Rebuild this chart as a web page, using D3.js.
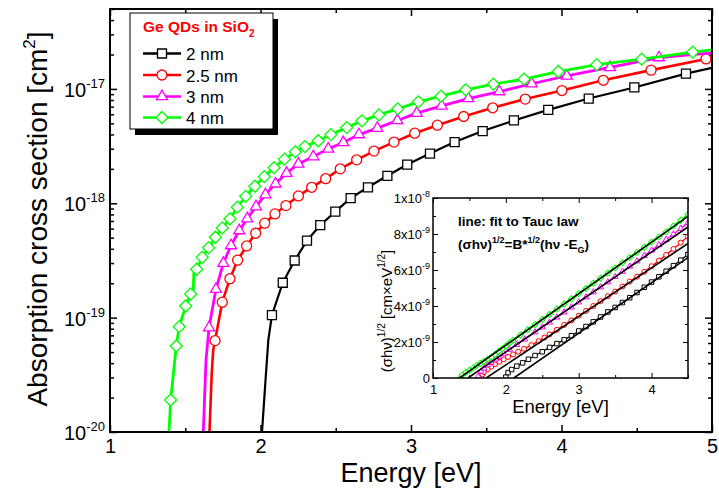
<!DOCTYPE html>
<html><head><meta charset="utf-8">
<script src="https://cdn.jsdelivr.net/npm/d3@7"></script>
<style>
body{margin:0;background:#fff}
svg{display:block}
text{font-family:"Liberation Sans",Arial,Helvetica,sans-serif;fill:#000}
</style>
</head><body>
<svg id="chart" width="719" height="492"></svg>
<script>
// ---------------- DATA ----------------
const seriesNames = ["2 nm", "2.5 nm", "3 nm", "4 nm"];

// main chart: marker points (energy eV, cross section cm^2)
const mkE_2nm  = [2.076,2.148,2.227,2.309,2.397,2.497,2.599,2.714,2.843,2.975,3.126,3.290,3.476,3.684,3.912,4.181,4.484,4.827];
const mkS_2nm  = [1.05e-19,2.02e-19,3.16e-19,4.72e-19,6.43e-19,8.45e-19,1.11e-18,1.38e-18,1.74e-18,2.18e-18,2.72e-18,3.43e-18,4.28e-18,5.30e-18,6.56e-18,8.24e-18,1.03e-17,1.36e-17];
const lnE_2nm  = [2.010,2.035,2.052,5.0];
const lnS_2nm  = [1.0e-20,3.05e-20,6.38e-20,1.53e-17];

const mkE_25nm = [1.698,1.746,1.797,1.848,1.908,1.968,2.028,2.096,2.169,2.252,2.340,2.433,2.530,2.639,2.754,2.887,3.025,3.175,3.350,3.543,3.759,4.003,4.278,4.595,4.960];
const mkS_25nm = [6.30e-20,1.365e-19,2.19e-19,3.18e-19,4.24e-19,5.47e-19,6.70e-19,8.07e-19,9.55e-19,1.16e-18,1.38e-18,1.64e-18,2.00e-18,2.40e-18,2.86e-18,3.43e-18,4.10e-18,4.82e-18,5.74e-18,6.84e-18,8.15e-18,9.68e-18,1.19e-17,1.46e-17,1.83e-17];
const lnE_25nm = [1.661,1.676,1.686,5.0];
const lnS_25nm = [1.0e-20,3.27e-20,5.21e-20,1.91e-17];

const mkE_3nm  = [1.658,1.704,1.753,1.804,1.859,1.912,1.970,2.033,2.100,2.173,2.252,2.351,2.450,2.550,2.654,2.776,2.909,3.038,3.204,3.381,3.587,3.802,4.035,4.322,4.648];
const mkS_3nm  = [8.18e-20,1.77e-19,2.99e-19,4.27e-19,5.77e-19,7.34e-19,9.35e-19,1.19e-18,1.48e-18,1.83e-18,2.21e-18,2.56e-18,2.99e-18,3.40e-18,3.99e-18,4.54e-18,5.30e-18,6.14e-18,7.11e-18,8.24e-18,9.48e-18,1.11e-17,1.30e-17,1.54e-17,1.88e-17];
const lnE_3nm  = [1.620,1.638,5.0];
const lnS_3nm  = [1.0e-20,4.27e-20,2.07e-17];

const mkE_4nm  = [1.403,1.4405,1.460,1.503,1.536,1.576,1.613,1.656,1.700,1.746,1.797,1.846,1.902,1.962,2.025,2.090,2.159,2.231,2.296,2.384,2.468,2.573,2.674,2.787,2.912,3.049,3.199,3.364,3.547,3.751,3.979,4.234,4.533,4.872];
const mkS_4nm  = [1.905e-20,5.65e-20,8.34e-20,1.265e-19,1.61e-19,2.65e-19,3.37e-19,4.09e-19,5.05e-19,6.09e-19,7.31e-19,9.25e-19,1.15e-18,1.41e-18,1.71e-18,2.05e-18,2.43e-18,2.82e-18,3.13e-18,3.52e-18,3.99e-18,4.59e-18,5.26e-18,5.93e-18,6.70e-18,7.71e-18,8.65e-18,9.82e-18,1.10e-17,1.22e-17,1.42e-17,1.63e-17,1.82e-17,2.10e-17];
const lnE_4nm  = [1.392,1.553,1.558,5.0];
const lnS_4nm  = [1.0e-20,1.75e-19,2.57e-19,2.20e-17];

// inset: (sigma*h*nu)^(1/2) in units of 1e-9 cm*eV^(1/2)
const inE_2nm  = [2.00,2.03,2.08,2.15,2.23,2.31,2.40,2.50,2.60,2.70,2.80,2.90,3.00,3.10,3.20,3.30,3.40,3.50,3.60,3.70,3.80,3.90,4.00,4.10,4.20,4.30,4.40,4.50];
const inV_2nm  = [0.05,0.30,0.47,0.66,0.84,1.04,1.25,1.46,1.70,1.91,2.12,2.35,2.61,2.86,3.12,3.39,3.67,3.92,4.19,4.46,4.75,5.04,5.33,5.62,5.93,6.24,6.55,6.86];
const inE_25nm = [1.66,1.68,1.70,1.75,1.80,1.85,1.91,1.97,2.03,2.10,2.17,2.25,2.35,2.45,2.53,2.60,2.70,2.80,2.90,3.00,3.10,3.20,3.30,3.40,3.50,3.60,3.70,3.80,3.90,4.00,4.10,4.20,4.30,4.40,4.50];
const inV_25nm = [0.02,0.20,0.33,0.49,0.63,0.76,0.90,1.04,1.17,1.31,1.46,1.62,1.83,2.05,2.25,2.42,2.68,2.95,3.20,3.46,3.73,4.00,4.27,4.54,4.80,5.08,5.36,5.63,5.90,6.21,6.52,6.84,7.17,7.52,7.86];
const inE_3nm  = [1.62,1.66,1.70,1.75,1.80,1.86,1.91,1.97,2.05,2.15,2.26,2.40,2.50,2.60,2.70,2.80,2.90,3.00,3.10,3.20,3.30,3.40,3.50,3.60,3.70,3.80,3.90,4.00,4.10,4.20,4.30,4.40,4.50];
const inV_3nm  = [0.08,0.37,0.54,0.72,0.87,1.04,1.18,1.36,1.58,1.85,2.15,2.55,2.82,3.09,3.37,3.65,3.93,4.21,4.49,4.77,5.05,5.33,5.62,5.91,6.20,6.49,6.79,7.09,7.39,7.69,7.99,8.30,8.62];
const inE_4nm  = [1.38,1.40,1.45,1.50,1.55,1.60,1.65,1.70,1.75,1.80,1.85,1.90,1.95,2.00,2.05,2.10,2.20,2.30,2.40,2.50,2.60,2.70,2.80,2.90,3.00,3.10,3.20,3.30,3.40,3.50,3.60,3.70,3.80,3.90,4.00,4.10,4.20,4.30,4.40,4.50];
const inV_4nm  = [0.02,0.16,0.32,0.43,0.55,0.70,0.81,0.93,1.04,1.16,1.31,1.47,1.63,1.78,1.94,2.10,2.39,2.68,2.97,3.25,3.54,3.83,4.11,4.40,4.69,4.97,5.26,5.54,5.83,6.12,6.40,6.69,6.98,7.26,7.55,7.84,8.12,8.45,8.76,9.08];

// Tauc fits: gap energy (value 0) and value at 4.5 eV
const fitEg   = [2.11, 1.73, 1.48, 1.364];
const fitV45  = [6.69, 7.47, 8.39, 8.98];

// ticks
const mainXMajor = [1, 2, 3, 4, 5];
const mainXMinor = [1.5, 2.5, 3.5, 4.5];
const mainYMajor = [1e-20, 1e-19, 1e-18, 1e-17];
const mainYLabelExp = ["-20", "-19", "-18", "-17"];
const insetXMajor = [1, 2, 3, 4];
const insetXMinor = [1.5, 2.5, 3.5, 4.5];
const insetYMajor = [0, 2, 4, 6, 8, 10];
const insetYMinor = [1, 3, 5, 7, 9];
const insetYLabelMant = ["0", "2x10", "4x10", "6x10", "8x10", "1x10"];
const insetYLabelExp  = ["", "-9", "-9", "-9", "-9", "-8"];

// ---------------- STYLE ----------------
const colors = ["#000000", "#ff0000", "#ff00ff", "#00ff00"];
const shapes = ["square", "circle", "triangle", "diamond"];

const svg = d3.select("#chart");
const x = d3.scaleLinear().domain([1, 5]).range([110, 712]);
const y = d3.scaleLog().domain([1e-20, 5e-17]).range([432, 9]);

function symPath(shape, s) {
  if (shape === "square") return d3.symbol(d3.symbolSquare, s * s)();
  if (shape === "circle") return d3.symbol(d3.symbolCircle, Math.PI * s * s / 4)();
  if (shape === "triangle") { const yy = s / (2 * Math.sqrt(3)); return d3.symbol(d3.symbolTriangle, 3 * Math.sqrt(3) * yy * yy)(); }
  return d3.symbol(d3.symbolSquare, (s / Math.SQRT2) * (s / Math.SQRT2))();
}
function symTransform(shape, px, py) {
  return `translate(${px},${py})` + (shape === "diamond" ? " rotate(45)" : "");
}

svg.append("defs").append("clipPath").attr("id", "clipMain")
  .append("rect").attr("x", 110).attr("y", 9).attr("width", 602).attr("height", 423);

// ---- main axes ----
const gx = svg.append("g").attr("transform", "translate(0,432)")
  .call(d3.axisBottom(x).tickValues(mainXMajor.concat(mainXMinor)).tickSize(-7).tickPadding(7)
    .tickFormat(d => mainXMajor.includes(d) ? d : ""));
gx.select(".domain").remove();
gx.selectAll(".tick line").attr("y2", d => mainXMajor.includes(d) ? -7 : -4).attr("stroke-width", 1.5);
gx.selectAll(".tick text").style("font-size", "20px").style("font-family", "Liberation Sans, Arial");

const gxt = svg.append("g").attr("transform", "translate(0,9)")
  .call(d3.axisTop(x).tickValues(mainXMajor.concat(mainXMinor)).tickSize(-7).tickFormat(""));
gxt.select(".domain").remove();
gxt.selectAll(".tick line").attr("y2", d => mainXMajor.includes(d) ? 7 : 4).attr("stroke-width", 1.5);

const yAll = y.ticks();
const isMajorY = d => mainYMajor.some(m => Math.abs(m - d) / m < 1e-6);
const gy = svg.append("g").attr("transform", "translate(110,0)")
  .call(d3.axisLeft(y).tickValues(yAll).tickSize(-7).tickFormat(""));
gy.select(".domain").remove();
gy.selectAll(".tick line").attr("x2", d => isMajorY(d) ? 7 : 4).attr("stroke-width", 1.5);
mainYMajor.forEach((v, i) => {
  const t = svg.append("text").attr("x", 105).attr("y", y(v) + 8)
    .attr("text-anchor", "end").style("font-size", "20px");
  t.append("tspan").text("10");
  t.append("tspan").attr("dy", -9).style("font-size", "13px").text(mainYLabelExp[i]);
});
const gyr = svg.append("g").attr("transform", "translate(712,0)")
  .call(d3.axisRight(y).tickValues(yAll).tickSize(-7).tickFormat(""));
gyr.select(".domain").remove();
gyr.selectAll(".tick line").attr("x2", d => isMajorY(d) ? -7 : -4).attr("stroke-width", 1.5);

// ---- main series ----
const mainSeries = [
  {mkE: mkE_2nm, mkS: mkS_2nm, lnE: lnE_2nm, lnS: lnS_2nm},
  {mkE: mkE_25nm, mkS: mkS_25nm, lnE: lnE_25nm, lnS: lnS_25nm},
  {mkE: mkE_3nm, mkS: mkS_3nm, lnE: lnE_3nm, lnS: lnS_3nm},
  {mkE: mkE_4nm, mkS: mkS_4nm, lnE: lnE_4nm, lnS: lnS_4nm}
];
const lineMain = d3.line().x(d => x(d[0])).y(d => y(d[1]));
const gMain = svg.append("g").attr("clip-path", "url(#clipMain)");
const mainWidths = [2.2, 2.6, 2.8, 2.8];
const mainSym = [9, 10, 11, 12];
mainSeries.forEach((s, i) => {
  const markers = s.mkE.map((e, j) => [e, s.mkS[j]]);
  const pts = markers.concat(s.lnE.map((e, j) => [e, s.lnS[j]])).sort((a, b) => a[0] - b[0]);
  gMain.append("path").attr("d", lineMain(pts)).attr("fill", "none")
    .attr("stroke", colors[i]).attr("stroke-width", mainWidths[i]).attr("stroke-linejoin", "round");
  gMain.selectAll(null).data(markers).enter().append("path")
    .attr("d", symPath(shapes[i], mainSym[i]))
    .attr("transform", d => symTransform(shapes[i], x(d[0]), y(d[1])))
    .attr("fill", "#fff").attr("stroke", colors[i]).attr("stroke-width", 1.3);
});

svg.append("rect").attr("x", 110).attr("y", 9).attr("width", 602).attr("height", 423)
  .attr("fill", "none").attr("stroke", "#000").attr("stroke-width", 2);

// axis titles
svg.append("text").attr("x", 411).attr("y", 482).attr("text-anchor", "middle")
  .style("font-size", "27px").text("Energy [eV]");
const yt = svg.append("text").attr("transform", "translate(47,219) rotate(-90)")
  .attr("text-anchor", "middle").style("font-size", "28px");
yt.append("tspan").text("Absorption cross section [cm");
yt.append("tspan").attr("dy", -12).style("font-size", "17px").text("2");
yt.append("tspan").attr("dy", 12).text("]");

// ---- legend ----
const lg = svg.append("g");
lg.append("rect").attr("x", 135).attr("y", 19).attr("width", 143).attr("height", 116).attr("fill", "#000");
lg.append("rect").attr("x", 130).attr("y", 13).attr("width", 143).attr("height", 116)
  .attr("fill", "#fff").attr("stroke", "#000").attr("stroke-width", 1);
const lt = lg.append("text").attr("x", 143).attr("y", 32).style("font-size", "15.5px")
  .style("font-weight", "bold").style("fill", "#ff0000");
lt.append("tspan").text("Ge QDs in SiO");
lt.append("tspan").attr("dy", 5).style("font-size", "10px").text("2");
const legendRowY = [53.5, 75, 96.5, 117.5];
seriesNames.forEach((n, i) => {
  const ry = legendRowY[i];
  lg.append("line").attr("x1", 143).attr("x2", 181).attr("y1", ry).attr("y2", ry)
    .attr("stroke", colors[i]).attr("stroke-width", 2.6);
  lg.append("path").attr("d", symPath(shapes[i], mainSym[i]))
    .attr("transform", symTransform(shapes[i], 162, ry))
    .attr("fill", "#fff").attr("stroke", colors[i]).attr("stroke-width", 1.3);
  lg.append("text").attr("x", 186).attr("y", ry + 6.5).style("font-size", "17px").text(n);
});

// ---- inset ----
const xi = d3.scaleLinear().domain([1, 4.5]).range([433, 688]);
const yi = d3.scaleLinear().domain([0, 10]).range([378, 198]);
const gi = svg.append("g");
gi.append("rect").attr("x", 433).attr("y", 198).attr("width", 255).attr("height", 180).attr("fill", "#fff");
gi.append("defs").append("clipPath").attr("id", "clipInset")
  .append("rect").attr("x", 433).attr("y", 198).attr("width", 255).attr("height", 180);

const gib = gi.append("g").attr("transform", "translate(0,378)")
  .call(d3.axisBottom(xi).tickValues(insetXMajor.concat(insetXMinor)).tickSize(-5).tickPadding(7)
    .tickFormat(d => insetXMajor.includes(d) ? d : ""));
gib.select(".domain").remove();
gib.selectAll(".tick line").attr("y2", d => insetXMajor.includes(d) ? -5 : -3);
gib.selectAll(".tick text").style("font-size", "13px");
const git = gi.append("g").attr("transform", "translate(0,198)")
  .call(d3.axisTop(xi).tickValues(insetXMajor.concat(insetXMinor)).tickSize(-5).tickFormat(""));
git.select(".domain").remove();
git.selectAll(".tick line").attr("y2", d => insetXMajor.includes(d) ? 5 : 3);
const gil = gi.append("g").attr("transform", "translate(433,0)")
  .call(d3.axisLeft(yi).tickValues(insetYMajor.concat(insetYMinor)).tickSize(-5).tickFormat(""));
gil.select(".domain").remove();
gil.selectAll(".tick line").attr("x2", d => insetYMajor.includes(d) ? 5 : 3);
const gir = gi.append("g").attr("transform", "translate(688,0)")
  .call(d3.axisRight(yi).tickValues(insetYMajor.concat(insetYMinor)).tickSize(-5).tickFormat(""));
gir.select(".domain").remove();
gir.selectAll(".tick line").attr("x2", d => insetYMajor.includes(d) ? -5 : -3);
insetYMajor.forEach((v, i) => {
  const t = gi.append("text").attr("x", 430).attr("y", yi(v) + 5).attr("text-anchor", "end")
    .style("font-size", "13px");
  t.append("tspan").text(insetYLabelMant[i]);
  if (insetYLabelExp[i]) t.append("tspan").attr("dy", -6).style("font-size", "9px").text(insetYLabelExp[i]);
});

const insetSeries = [[inE_2nm, inV_2nm], [inE_25nm, inV_25nm], [inE_3nm, inV_3nm], [inE_4nm, inV_4nm]];
const lineInset = d3.line().x(d => xi(d[0])).y(d => yi(d[1]));
const gid = gi.append("g").attr("clip-path", "url(#clipInset)");
const insetSym = [4.5, 5, 6, 6];
insetSeries.forEach((s, i) => {
  const pts = s[0].map((e, j) => [e, s[1][j]]);
  gid.append("path").attr("d", lineInset(pts)).attr("fill", "none")
    .attr("stroke", colors[i]).attr("stroke-width", i === 3 ? 2.2 : 1.3);
  gid.selectAll(null).data(pts).enter().append("path")
    .attr("d", symPath(shapes[i], insetSym[i]))
    .attr("transform", d => symTransform(shapes[i], xi(d[0]), yi(d[1])))
    .attr("fill", "#fff").attr("stroke", colors[i]).attr("stroke-width", 1);
});
fitEg.forEach((eg, i) => {
  gid.append("path").attr("d", lineInset([[eg, 0], [4.5, fitV45[i]]]))
    .attr("fill", "none").attr("stroke", "#000").attr("stroke-width", 1.6);
});
gi.append("rect").attr("x", 433).attr("y", 198).attr("width", 255).attr("height", 180)
  .attr("fill", "none").attr("stroke", "#000").attr("stroke-width", 1.5);

gi.append("text").attr("x", 458).attr("y", 226).style("font-size", "13.5px").style("font-weight", "bold")
  .text("line: fit to Tauc law");
const tf = gi.append("text").attr("x", 458).attr("y", 249).style("font-size", "13.5px").style("font-weight", "bold");
tf.append("tspan").text("(σhν)");
tf.append("tspan").attr("dy", -6).style("font-size", "9px").text("1/2");
tf.append("tspan").attr("dy", 6).text("=B*");
tf.append("tspan").attr("dy", -6).style("font-size", "9px").text("1/2");
tf.append("tspan").attr("dy", 6).text("(hν -E");
tf.append("tspan").attr("dy", 4).style("font-size", "9px").text("G");
tf.append("tspan").attr("dy", -4).text(")");

gi.append("text").attr("x", 560.5).attr("y", 413).attr("text-anchor", "middle")
  .style("font-size", "18.5px").text("Energy [eV]");
const iy = gi.append("text").attr("transform", "translate(392,311) rotate(-90)")
  .attr("text-anchor", "middle").style("font-size", "15px");
iy.append("tspan").text("(σhν)");
iy.append("tspan").attr("dy", -7).style("font-size", "10px").text("1/2");
iy.append("tspan").attr("dy", 7).text(" [cm×eV");
iy.append("tspan").attr("dy", -7).style("font-size", "10px").text("1/2");
iy.append("tspan").attr("dy", 7).text("]");
</script>
</body></html>
